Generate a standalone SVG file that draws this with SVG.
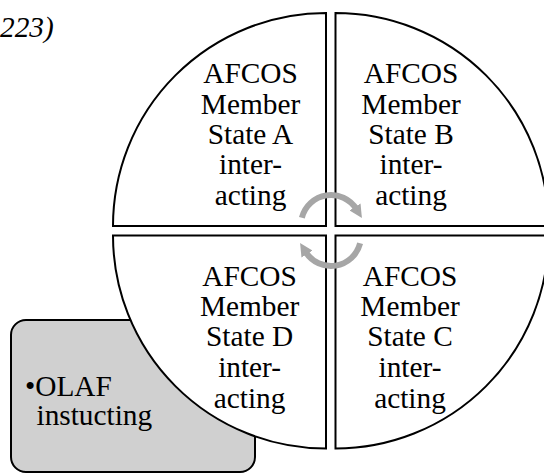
<svg xmlns="http://www.w3.org/2000/svg" width="544" height="473" viewBox="0 0 544 473">
  <style>
    .q { fill: #ffffff; stroke: #000000; stroke-width: 2; }
    text { font-family: "Times New Roman", "Liberation Serif", "DejaVu Serif", serif; font-size: 29.33px; fill: #000000; }
    .c { text-anchor: middle; }
    .arc { fill: none; stroke: #a6a6a6; stroke-width: 6; }
  </style>
  <defs>
    <marker id="head" viewBox="0 0 10 10" refX="2" refY="5" markerWidth="13" markerHeight="13" markerUnits="userSpaceOnUse" orient="auto">
      <path d="M0,0 L10,5 L0,10 Z" fill="#a6a6a6"/>
    </marker>
  </defs>
  <text x="0" y="36.7" font-style="italic">223)</text>
  <g id="olaf">
    <rect x="11" y="320" width="244" height="152" rx="15" ry="15" fill="#d0d0d0" stroke="#000000" stroke-width="2"/>
    <text x="25" y="396">•OLAF</text>
    <text x="36.5" y="425">instucting</text>
  </g>
  <g id="stateA">
    <path class="q" d="M326,226 V13 A213,213 0 0 0 113,226 Z"/>
    <text class="c" x="250.5"><tspan x="250.5" y="83.3">AFCOS</tspan><tspan x="250.5" y="113.6">Member</tspan><tspan x="250.5" y="144">State A</tspan><tspan x="250.5" y="174.3">inter-</tspan><tspan x="250.5" y="204.6">acting</tspan></text>
  </g>
  <g id="stateB">
    <path class="q" d="M335.5,226 V13 A213,213 0 0 1 548.5,226 Z"/>
    <text class="c" x="411"><tspan x="411" y="83.3">AFCOS</tspan><tspan x="411" y="113.6">Member</tspan><tspan x="411" y="144">State B</tspan><tspan x="411" y="174.3">inter-</tspan><tspan x="411" y="204.6">acting</tspan></text>
  </g>
  <g id="stateD">
    <path class="q" d="M326,235.5 V448.5 A213,213 0 0 1 113,235.5 Z"/>
    <text class="c" x="249.6"><tspan x="249.6" y="285.5">AFCOS</tspan><tspan x="249.6" y="315.9">Member</tspan><tspan x="249.6" y="346.3">State D</tspan><tspan x="249.6" y="376.9">inter-</tspan><tspan x="249.6" y="407.5">acting</tspan></text>
  </g>
  <g id="stateC">
    <path class="q" d="M335.5,235.5 V448.5 A213,213 0 0 0 548.5,235.5 Z"/>
    <text class="c" x="410"><tspan x="410" y="285.5">AFCOS</tspan><tspan x="410" y="315.9">Member</tspan><tspan x="410" y="346.3">State C</tspan><tspan x="410" y="376.9">inter-</tspan><tspan x="410" y="407.5">acting</tspan></text>
  </g>
  <g id="connectors">
    <path class="arc" d="M301.9,217.7 A30,30 0 0 1 356.4,209.1" marker-end="url(#head)"/>
    <path class="arc" d="M360.1,243.3 A30,30 0 0 1 305.6,251.9" marker-end="url(#head)"/>
  </g>
</svg>
